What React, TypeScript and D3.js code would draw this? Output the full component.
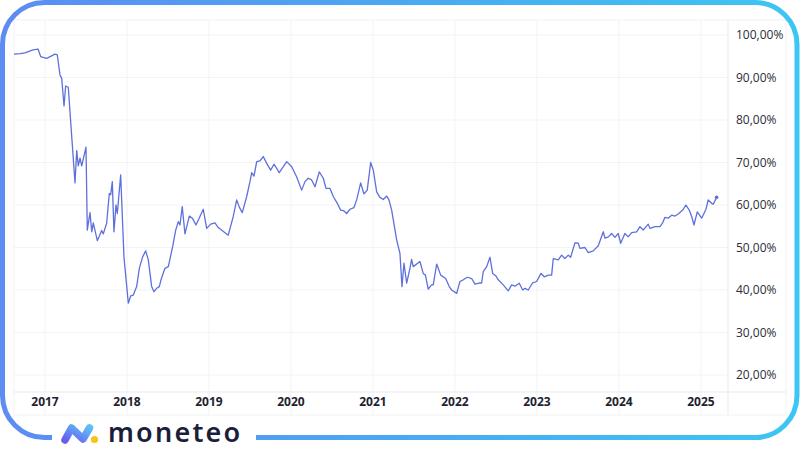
import React from "react";
import * as d3 from "d3";

// decimal-year timestamps of the series
const dates: number[] = [
  2016.622, 2016.7, 2016.756, 2016.854, 2016.915, 2016.948, 2017.021, 2017.122, 2017.15, 2017.183,
  2017.204, 2017.232, 2017.252, 2017.284, 2017.326, 2017.366, 2017.387, 2017.406, 2017.427, 2017.448,
  2017.5, 2017.516, 2017.549, 2017.57, 2017.589, 2017.638, 2017.691, 2017.711, 2017.752, 2017.784,
  2017.801, 2017.821, 2017.841, 2017.866, 2017.882, 2017.923, 2017.963, 2018.016, 2018.045, 2018.077,
  2018.118, 2018.15, 2018.191, 2018.228, 2018.26, 2018.301, 2018.329, 2018.362, 2018.394, 2018.415,
  2018.463, 2018.504, 2018.557, 2018.594, 2018.626, 2018.646, 2018.674, 2018.707, 2018.76, 2018.801,
  2018.841, 2018.89, 2018.93, 2018.972, 2019.021, 2019.073, 2019.113, 2019.235, 2019.296, 2019.338,
  2019.37, 2019.406, 2019.46, 2019.5, 2019.521, 2019.549, 2019.582, 2019.622, 2019.662, 2019.704,
  2019.752, 2019.793, 2019.857, 2019.948, 2020.009, 2020.07, 2020.13, 2020.171, 2020.211, 2020.252,
  2020.293, 2020.345, 2020.394, 2020.427, 2020.476, 2020.516, 2020.565, 2020.606, 2020.646, 2020.679,
  2020.72, 2020.768, 2020.801, 2020.85, 2020.89, 2020.93, 2020.972, 2021.004, 2021.045, 2021.085,
  2021.126, 2021.167, 2021.195, 2021.228, 2021.289, 2021.329, 2021.354, 2021.378, 2021.411, 2021.451,
  2021.471, 2021.491, 2021.573, 2021.613, 2021.64, 2021.674, 2021.714, 2021.735, 2021.777, 2021.826,
  2021.887, 2021.93, 2021.96, 2022.021, 2022.061, 2022.101, 2022.15, 2022.204, 2022.244, 2022.305,
  2022.325, 2022.345, 2022.387, 2022.427, 2022.46, 2022.5, 2022.528, 2022.589, 2022.65, 2022.691,
  2022.732, 2022.784, 2022.826, 2022.854, 2022.894, 2022.948, 2022.996, 2023.049, 2023.089, 2023.138,
  2023.179, 2023.199, 2023.26, 2023.301, 2023.341, 2023.382, 2023.411, 2023.463, 2023.504, 2023.524,
  2023.585, 2023.626, 2023.687, 2023.748, 2023.809, 2023.829, 2023.87, 2023.911, 2023.951, 2023.991,
  2024.021, 2024.073, 2024.113, 2024.155, 2024.216, 2024.256, 2024.296, 2024.357, 2024.378, 2024.439,
  2024.5, 2024.533, 2024.561, 2024.601, 2024.643, 2024.683, 2024.723, 2024.777, 2024.817, 2024.857,
  2024.887, 2024.915, 2024.955, 2025.009, 2025.061, 2025.089, 2025.13, 2025.15, 2025.171, 2025.191,
];

// percentage values
const values: number[] = [
  95.5, 95.6, 95.8, 96.5, 96.7, 94.9, 94.5, 95.5, 95.3, 90.6,
  89.8, 83.3, 88.0, 87.7, 76.1, 65.2, 72.8, 69.2, 71.0, 69.2,
  73.6, 54.1, 58.2, 53.7, 55.8, 51.6, 54.0, 53.2, 55.7, 62.7,
  62.4, 65.5, 53.7, 60.0, 58.0, 67.1, 47.8, 36.9, 38.6, 38.8,
  40.8, 45.1, 47.8, 49.2, 47.1, 40.8, 39.6, 40.4, 40.8, 42.4,
  45.1, 45.5, 50.2, 54.1, 56.1, 55.3, 59.6, 53.2, 57.4, 56.8,
  55.3, 57.3, 59.0, 54.5, 55.5, 55.8, 54.7, 52.9, 57.3, 61.2,
  59.5, 58.2, 62.0, 65.5, 67.6, 66.8, 70.2, 70.4, 71.4, 69.8,
  68.2, 69.6, 67.6, 70.2, 69.0, 66.6, 63.5, 65.5, 66.3, 65.9,
  64.3, 67.8, 66.3, 63.9, 63.9, 62.0, 60.4, 58.8, 58.6, 58.0,
  59.0, 59.4, 61.2, 65.2, 62.6, 63.5, 70.0, 68.2, 63.1, 61.8,
  61.3, 62.1, 61.2, 58.8, 51.8, 48.6, 40.8, 46.3, 41.6, 45.1,
  47.2, 45.5, 46.7, 43.9, 43.5, 40.2, 41.2, 41.2, 46.1, 43.5,
  42.7, 40.8, 40.0, 39.2, 42.0, 42.4, 43.0, 42.7, 41.4, 41.7,
  41.6, 44.3, 45.5, 47.7, 43.9, 43.3, 42.4, 41.2, 39.8, 41.2,
  40.9, 41.6, 40.0, 40.4, 40.0, 41.7, 42.0, 43.9, 43.1, 43.5,
  43.5, 47.4, 47.1, 48.2, 47.4, 48.2, 47.7, 51.1, 51.0, 49.8,
  50.0, 48.8, 49.2, 50.4, 53.7, 52.2, 52.5, 53.3, 52.4, 53.3,
  51.0, 53.3, 52.5, 53.5, 53.7, 54.9, 54.1, 55.5, 54.5, 54.9,
  54.9, 55.8, 57.1, 56.9, 57.6, 57.4, 57.9, 58.8, 60.0, 58.8,
  57.3, 55.3, 58.4, 56.9, 59.0, 61.2, 60.4, 60.2, 61.0, 61.8,
];

const yearTicks: number[] = [2017, 2018, 2019, 2020, 2021, 2022, 2023, 2024, 2025];
const valueTicks: number[] = [20, 30, 40, 50, 60, 70, 80, 90, 100];

const W = 800;
const H = 450;
const paneLeft = 14;
const paneTop = 20;
const plotRight = 728;
const axisRight = 786;
const plotBottom = 392;
const paneBottom = 415;

export default function App() {
  const x = d3.scaleLinear().domain([2016.622, 2025.33]).range([paneLeft, plotRight]);
  const y = d3.scaleLinear().domain([20, 100]).range([375, 35]);
  const pts = dates.map((d, i) => [d, values[i]] as [number, number]);
  const line = d3
    .line<[number, number]>()
    .x((d) => x(d[0]))
    .y((d) => y(d[1]))
    .curve(d3.curveLinear);
  const fmt = (v: number) => v.toFixed(2).replace(".", ",") + "%";
  const last = pts[pts.length - 1];

  return (
    <svg
      width={W}
      height={H}
      style={{ position: "absolute", left: 0, top: 0, background: "#fff" }}
      fontFamily="'Open Sans', 'Noto Sans', sans-serif"
    >
      <defs>
        <linearGradient id="frameGrad" x1="0" y1="0" x2="1" y2="0">
          <stop offset="0" stopColor="#5d8cf3" />
          <stop offset="0.5" stopColor="#4aa8f2" />
          <stop offset="1" stopColor="#3cc6f3" />
        </linearGradient>
        <linearGradient id="logoGrad" x1="0" y1="1" x2="1" y2="0">
          <stop offset="0" stopColor="#6a5cf0" />
          <stop offset="1" stopColor="#5cc0f6" />
        </linearGradient>
        <clipPath id="plotClip">
          <rect x={paneLeft} y={paneTop} width={plotRight - paneLeft} height={plotBottom - paneTop} />
        </clipPath>
      </defs>
      <rect x={0} y={0} width={W} height={H} fill="#fff" />

      {/* pane box */}
      <rect
        x={paneLeft}
        y={paneTop}
        width={axisRight - paneLeft}
        height={paneBottom - paneTop}
        fill="none"
        stroke="#f1f2f4"
      />
      {/* grid */}
      {valueTicks.map((v) => (
        <line key={"h" + v} x1={paneLeft} x2={plotRight} y1={y(v)} y2={y(v)} stroke="#f2f3f5" />
      ))}
      {yearTicks.map((t) => (
        <line key={"v" + t} x1={x(t)} x2={x(t)} y1={paneTop} y2={paneBottom} stroke="#f2f3f5" />
      ))}
      {/* axis borders */}
      <line x1={paneLeft} x2={axisRight} y1={plotBottom} y2={plotBottom} stroke="#e8e9ec" />
      <line x1={plotRight} x2={plotRight} y1={paneTop} y2={paneBottom} stroke="#e8e9ec" />

      {/* series */}
      <path
        d={line(pts) || ""}
        fill="none"
        stroke="#5e70dc"
        strokeWidth={1.3}
        strokeLinejoin="round"
        clipPath="url(#plotClip)"
      />
      <circle cx={x(last[0])} cy={y(last[1])} r={1.8} fill="#5e70dc" />

      {/* y labels */}
      {valueTicks.map((v) => (
        <text key={"yl" + v} x={736} y={y(v)} dy="0.35em" fontSize={12} fill="#2a2e39">
          {fmt(v)}
        </text>
      ))}
      {/* x labels */}
      {yearTicks.map((t) => (
        <text
          key={"xl" + t}
          x={x(t)}
          y={402}
          dy="0.35em"
          textAnchor="middle"
          fontSize={12}
          fontWeight={700}
          fill="#1f2230"
        >
          {t}
        </text>
      ))}

      {/* frame */}
      <rect
        x={2.5}
        y={2.5}
        width={794.5}
        height={435}
        rx={42}
        ry={42}
        fill="none"
        stroke="url(#frameGrad)"
        strokeWidth={5}
      />
      <rect x={52} y={428} width={204} height={22} fill="#fff" />

      {/* logo */}
      <path
        d="M65,440 L71.5,428 L83,439 L89.5,428"
        fill="none"
        stroke="url(#logoGrad)"
        strokeWidth={7.5}
        strokeLinecap="round"
        strokeLinejoin="round"
      />
      <circle cx={94.5} cy={439.5} r={3.6} fill="#f7c21a" />
      <text
        x={108}
        y={442}
        fontSize={27}
        fontWeight={600}
        letterSpacing={2.2}
        fill="#1b1e3b"
        fontFamily="'Noto Sans', sans-serif"
      >
        moneteo
      </text>
    </svg>
  );
}
